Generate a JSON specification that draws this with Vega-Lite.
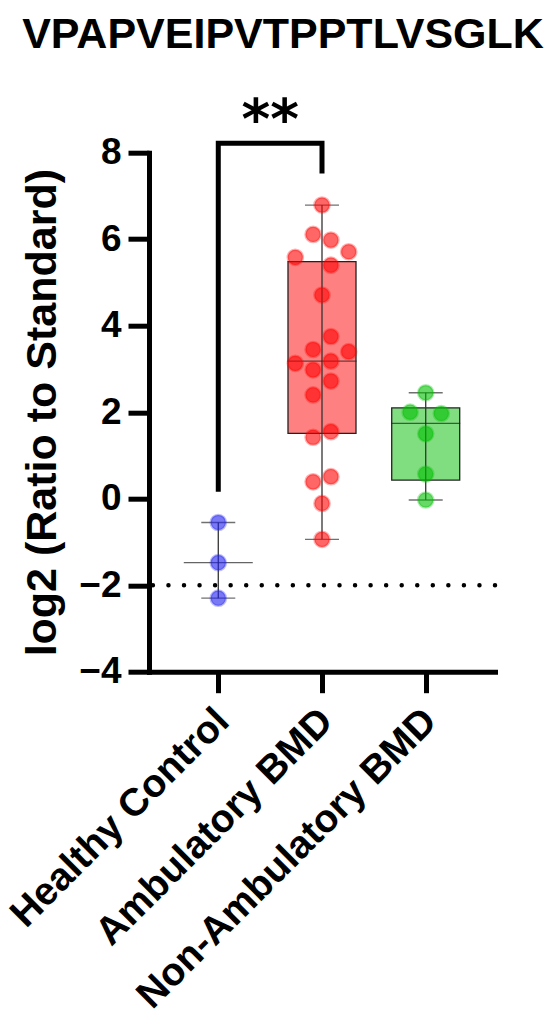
{
  "$schema": "https://vega.github.io/schema/vega-lite/v6.json",
  "description": "VPAPVEIPVTPPTLVSGLK peptide, log2 ratio to standard by group",
  "autosize": {"type": "none"},
  "padding": {"left": 149, "top": 152.7, "right": 55, "bottom": 355.3},
  "width": 346,
  "height": 519,
  "background": "white",
  "title": {
    "text": "VPAPVEIPVTPPTLVSGLK",
    "font": "Liberation Sans",
    "fontSize": 43,
    "fontWeight": "bold",
    "color": "black",
    "frame": "group",
    "anchor": "middle",
    "baseline": "alphabetic",
    "dx": -39,
    "offset": 3
  },
  "config": {
    "view": {"stroke": null},
    "axis": {
      "labelFont": "Liberation Sans",
      "labelFontWeight": "bold",
      "labelColor": "black",
      "labelLimit": 0,
      "titleFont": "Liberation Sans",
      "titleFontWeight": "bold",
      "titleColor": "black",
      "domainColor": "black",
      "domainWidth": 5,
      "domainCap": "square",
      "tickColor": "black",
      "tickWidth": 5,
      "tickSize": 21,
      "grid": false
    }
  },
  "datasets": {
    "points": [
      {"group": "Healthy Control", "value": -0.55, "lane": 0},
      {"group": "Healthy Control", "value": -1.48, "lane": 0},
      {"group": "Healthy Control", "value": -2.30, "lane": 0},
      {"group": "Ambulatory BMD", "value": 6.79, "lane": 0},
      {"group": "Ambulatory BMD", "value": 6.11, "lane": -1},
      {"group": "Ambulatory BMD", "value": 5.98, "lane": 1},
      {"group": "Ambulatory BMD", "value": 5.71, "lane": 3},
      {"group": "Ambulatory BMD", "value": 5.58, "lane": -3},
      {"group": "Ambulatory BMD", "value": 5.40, "lane": 1},
      {"group": "Ambulatory BMD", "value": 4.71, "lane": 0},
      {"group": "Ambulatory BMD", "value": 3.75, "lane": 1},
      {"group": "Ambulatory BMD", "value": 3.45, "lane": -1},
      {"group": "Ambulatory BMD", "value": 3.40, "lane": 3},
      {"group": "Ambulatory BMD", "value": 3.18, "lane": 1},
      {"group": "Ambulatory BMD", "value": 3.13, "lane": -3},
      {"group": "Ambulatory BMD", "value": 2.98, "lane": -1},
      {"group": "Ambulatory BMD", "value": 2.72, "lane": 1},
      {"group": "Ambulatory BMD", "value": 2.40, "lane": -1},
      {"group": "Ambulatory BMD", "value": 1.55, "lane": 1},
      {"group": "Ambulatory BMD", "value": 1.42, "lane": -1},
      {"group": "Ambulatory BMD", "value": 0.51, "lane": 1},
      {"group": "Ambulatory BMD", "value": 0.39, "lane": -1},
      {"group": "Ambulatory BMD", "value": -0.11, "lane": 0},
      {"group": "Ambulatory BMD", "value": -0.94, "lane": 0},
      {"group": "Non-Ambulatory BMD", "value": 2.45, "lane": 0},
      {"group": "Non-Ambulatory BMD", "value": 2.00, "lane": -1.75},
      {"group": "Non-Ambulatory BMD", "value": 1.97, "lane": 1.75},
      {"group": "Non-Ambulatory BMD", "value": 1.50, "lane": 0},
      {"group": "Non-Ambulatory BMD", "value": 0.57, "lane": 0},
      {"group": "Non-Ambulatory BMD", "value": -0.03, "lane": 0}
    ],
    "summary": [
      {"group": "Healthy Control", "lo": -2.30, "q1": null, "median": -1.48, "q3": null, "hi": -0.55},
      {"group": "Ambulatory BMD", "lo": -0.94, "q1": 1.51, "median": 3.18, "q3": 5.48, "hi": 6.79},
      {"group": "Non-Ambulatory BMD", "lo": -0.03, "q1": 0.43, "median": 1.74, "q3": 2.10, "hi": 2.45}
    ],
    "bracket": [
      {"group": "Healthy Control", "y": 0.16, "ord": 1},
      {"group": "Healthy Control", "y": 8.22, "ord": 2},
      {"group": "Ambulatory BMD", "y": 8.22, "ord": 3},
      {"group": "Ambulatory BMD", "y": 7.52, "ord": 4}
    ],
    "stars": [
      {"group": "Healthy Control", "y": 8.35, "label": "**"}
    ]
  },
  "encoding": {
    "x": {
      "field": "group",
      "type": "nominal",
      "sort": ["Healthy Control", "Ambulatory BMD", "Non-Ambulatory BMD"],
      "scale": {"type": "point", "padding": 0.668},
      "axis": {
        "title": null,
        "labelAngle": -45,
        "labelAlign": "right",
        "labelBaseline": "middle",
        "labelFontSize": 39,
        "labelPadding": 22,
        "labelOffset": 4
      }
    }
  },
  "layer": [
    {
      "data": {"name": "summary"},
      "transform": [{"filter": "datum.q1 != null"}],
      "mark": {"type": "bar", "width": 68, "stroke": "#222222", "strokeWidth": 1.3},
      "encoding": {
        "y": {
          "field": "q1",
          "type": "quantitative",
          "scale": {"domain": [-4, 8], "nice": false, "zero": false},
          "axis": {
            "values": [-4, -2, 0, 2, 4, 6, 8],
            "labelFontSize": 37,
            "labelPadding": 7,
            "title": "log2 (Ratio to Standard)",
            "titleFontSize": 43,
            "titleBaseline": "alphabetic",
            "titleX": -94
          }
        },
        "y2": {"field": "q3"},
        "fill": {
          "field": "group",
          "scale": {"domain": ["Ambulatory BMD", "Non-Ambulatory BMD"], "range": ["#ff8080", "#80dd80"]},
          "legend": null
        }
      }
    },
    {
      "data": {"name": "summary"},
      "mark": {"type": "rule", "color": "#333333", "strokeWidth": 1.3},
      "encoding": {
        "y": {"field": "lo", "type": "quantitative"},
        "y2": {"field": "hi"}
      }
    },
    {
      "data": {"name": "summary"},
      "mark": {"type": "tick", "orient": "horizontal", "color": "#333333", "size": 34, "thickness": 1.3},
      "encoding": {"y": {"field": "lo", "type": "quantitative"}}
    },
    {
      "data": {"name": "summary"},
      "mark": {"type": "tick", "orient": "horizontal", "color": "#333333", "size": 34, "thickness": 1.3},
      "encoding": {"y": {"field": "hi", "type": "quantitative"}}
    },
    {
      "data": {"name": "summary"},
      "mark": {"type": "tick", "orient": "horizontal", "color": "#222222", "size": 69, "thickness": 1.3},
      "encoding": {"y": {"field": "median", "type": "quantitative"}}
    },
    {
      "data": {"values": [{"ref": -2}]},
      "mark": {"type": "rule", "color": "black", "strokeWidth": 4.5, "strokeDash": [0, 15.55], "strokeCap": "round"},
      "encoding": {"y": {"field": "ref", "type": "quantitative"}, "x": null}
    },
    {
      "data": {"name": "points"},
      "mark": {"type": "point", "filled": true, "size": 230, "fillOpacity": 0.6, "strokeOpacity": 0.3, "strokeWidth": 2.5},
      "encoding": {
        "y": {"field": "value", "type": "quantitative"},
        "xOffset": {"field": "lane", "type": "quantitative", "scale": {"domain": [-3, 3], "range": [-26.7, 26.7]}},
        "color": {
          "field": "group",
          "scale": {
            "domain": ["Healthy Control", "Ambulatory BMD", "Non-Ambulatory BMD"],
            "range": ["#2020f0", "#ff0000", "#00c000"]
          },
          "legend": null
        },
        "stroke": {
          "field": "group",
          "scale": {
            "domain": ["Healthy Control", "Ambulatory BMD", "Non-Ambulatory BMD"],
            "range": ["#2020f0", "#ff0000", "#00c000"]
          },
          "legend": null
        }
      }
    },
    {
      "data": {"name": "bracket"},
      "mark": {"type": "line", "color": "black", "strokeWidth": 5, "strokeJoin": "miter", "strokeCap": "butt"},
      "encoding": {
        "y": {"field": "y", "type": "quantitative"},
        "order": {"field": "ord"}
      }
    },
    {
      "data": {"name": "stars"},
      "mark": {"type": "text", "font": "DejaVu Sans", "fontWeight": "bold", "fontSize": 55, "color": "black", "baseline": "alphabetic", "align": "center", "dx": 52},
      "encoding": {
        "y": {"field": "y", "type": "quantitative"},
        "text": {"field": "label"}
      }
    }
  ]
}
